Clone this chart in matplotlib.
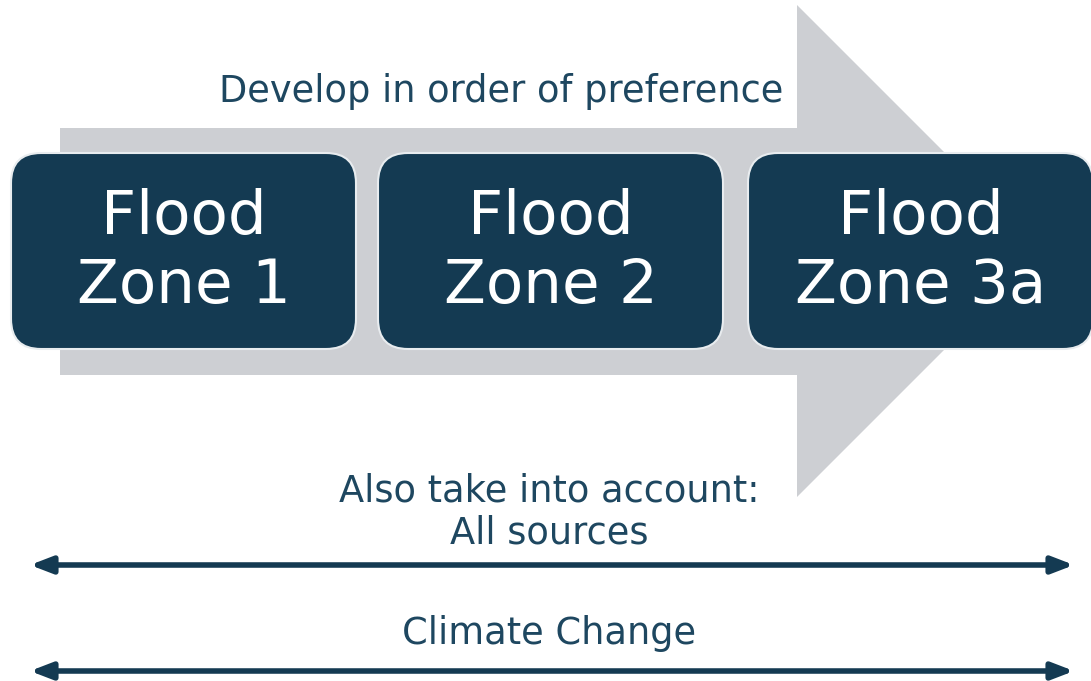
import matplotlib.pyplot as plt
from matplotlib.patches import FancyBboxPatch, Polygon

# labels shown in the diagram
zone_labels = ["Flood\nZone 1", "Flood\nZone 2", "Flood\nZone 3a"]
top_caption = "Develop in order of preference"
range_captions = ["Also take into account:\nAll sources", "Climate Change"]

navy = "#143a52"
text_col = "#1e4760"
grey = "#cdcfd3"

W, H = 1091, 681
fig = plt.figure(figsize=(W / 100, H / 100), dpi=100)
ax = fig.add_axes([0, 0, 1, 1])
ax.set_xlim(0, W)
ax.set_ylim(H, 0)
ax.axis("off")

# big grey arrow behind the boxes
arrow_pts = [(60, 128), (797, 128), (797, 5), (1043, 251),
             (797, 497), (797, 375), (60, 375)]
ax.add_patch(Polygon(arrow_pts, closed=True, facecolor=grey, edgecolor="none", zorder=1))

ax.text(501, 91, top_caption, ha="center", va="center", fontsize=26.5,
        color=text_col, zorder=3)

# zone boxes
box_left = [11, 378, 748]
box_w, box_top, box_h = 345, 153, 196
for x0, label in zip(box_left, zone_labels):
    box = FancyBboxPatch((x0 + 30, box_top + 30), box_w - 60, box_h - 60,
                         boxstyle="round,pad=30", facecolor=navy,
                         edgecolor="#e8ecef", linewidth=1.5, zorder=2)
    ax.add_patch(box)
    ax.text(x0 + box_w / 2, box_top + box_h / 2 + 1, label, ha="center", va="center",
            fontsize=44, color="white", linespacing=1.2, zorder=3)

# double headed range arrows with captions
arrow_y = [565, 671]
caption_y = [512, 633]
for cap, ya, yc in zip(range_captions, arrow_y, caption_y):
    ax.text(549, yc, cap, ha="center", va="center", fontsize=26.5,
            color=text_col, linespacing=1.15)
    ax.annotate("", xy=(30, ya), xytext=(1074, ya),
                arrowprops=dict(arrowstyle="<|-|>,head_length=1.3,head_width=0.5",
                                color=navy, lw=4, shrinkA=0, shrinkB=0))

fig.savefig("out.png", dpi=100)
